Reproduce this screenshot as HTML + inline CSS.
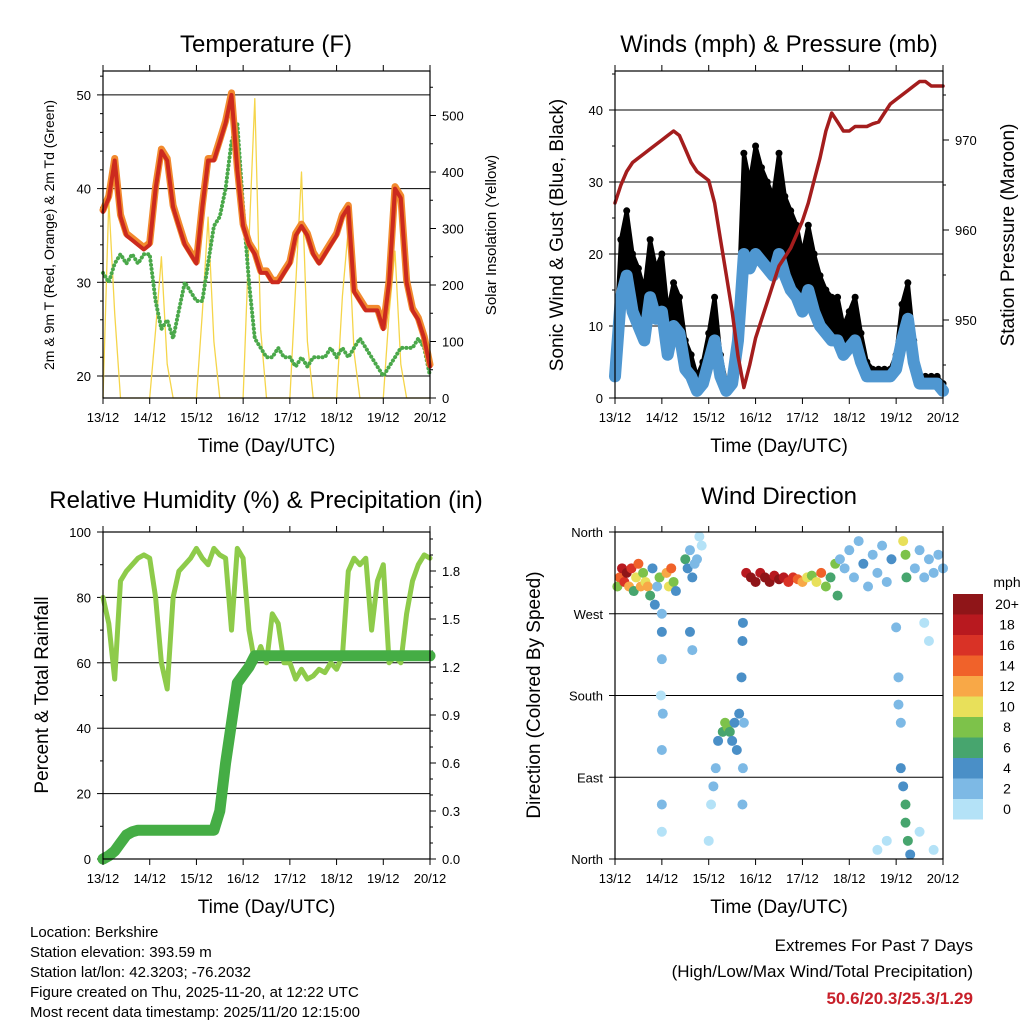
<!DOCTYPE html>
<html><head><meta charset="utf-8">
<style>
html,body{margin:0;padding:0;background:#fff;}
svg{display:block;font-family:"Liberation Sans",sans-serif;}
</style></head>
<body>
<svg id="c" width="1024" height="1024" xmlns="http://www.w3.org/2000/svg"></svg>
<script>
// ===== DATA (3-hourly, day offset from 13/12) =====
const xDays = ["13/12","14/12","15/12","16/12","17/12","18/12","19/12","20/12"];
const tempF = [37.5,39,43,37,35,34.5,34,33.5,34,40,44,43,38,36,34,33,32,38,43,43,45,47,50,42,36,34,33,31,31,30,30,31,32,35,36,35,33,32,33,34,35,37,38,29,28,27,27,27,25,30,40,39,30,27,26,24,21];
const dewF = [31,30,32,33,32,33,32,33,33,28,25,26,24,27,30,29,28,28,32,36,37,40,45,47,38,30,24,23,22,22,23,22,22,21,22,21,22,22,22,23,22,23,22,23,24,23,22,21,20,21,22,23,23,23,24,23,20];
const solar = [0,350,150,0,0,0,0,0,0,120,250,60,0,0,0,0,0,150,320,100,0,0,0,0,0,280,530,120,0,0,0,0,0,200,400,100,0,0,0,0,0,180,300,80,0,0,0,0,0,150,260,60,0,0,0,0,0];
const windMph = [3,14,17,12,10,8,14,11,12,6,10,9,4,3,1,2,5,8,3,1,2,8,20,18,20,19,18,17,20,17,15,14,12,15,12,10,9,8,8,6,7,8,5,3,3,3,3,3,4,8,11,5,2,2,2,2,1];
const gustMph = [6,22,26,20,18,15,22,18,20,12,16,14,8,6,3,5,9,14,6,2,4,12,34,30,35,32,30,28,34,28,26,24,20,24,20,17,15,14,14,10,12,14,9,5,4,4,4,4,6,13,16,8,3,3,3,3,2];
const pressMb = [963,965,966.5,967.5,968,968.5,969,969.5,970,970.5,971,970.5,969,967.5,966.5,966,965.5,963,959,955,951,946,942.5,945,948,950,952,954,956,957,958,959.5,961,963,965.5,968,971,973,972,971,971,971.5,971.5,971.5,971.8,972,973,974,974.5,975,975.5,976,976.5,976.5,976,976,976];
const rhPct = [80,72,55,85,88,90,92,93,92,80,60,52,80,88,90,92,95,92,90,95,93,92,70,95,92,70,60,65,60,75,72,60,60,55,58,55,56,58,57,60,58,62,88,92,90,92,70,85,90,60,62,60,75,85,90,93,92];
const precipIn = [0,0.02,0.05,0.1,0.15,0.17,0.18,0.18,0.18,0.18,0.18,0.18,0.18,0.18,0.18,0.18,0.18,0.18,0.18,0.18,0.3,0.6,0.85,1.1,1.15,1.2,1.27,1.27,1.27,1.27,1.27,1.27,1.27,1.27,1.27,1.27,1.27,1.27,1.27,1.27,1.27,1.27,1.27,1.27,1.27,1.27,1.27,1.27,1.27,1.27,1.27,1.27,1.27,1.27,1.27,1.27,1.27];
const dirDay = [0.05,0.1,0.15,0.2,0.25,0.3,0.35,0.4,0.45,0.5,0.55,0.6,0.65,0.7,0.75,0.8,0.85,0.9,0.95,1.0,1.0,1.0,1.02,1.0,1.0,1.0,0.98,1.1,1.15,1.2,1.25,1.3,1.5,1.55,1.6,1.65,1.7,1.75,1.6,1.65,1.8,1.85,2.0,2.05,2.1,2.15,2.2,2.3,2.35,2.4,2.45,2.5,2.55,2.6,2.65,2.7,2.72,2.73,2.75,2.72,2.73,2.8,2.9,3.0,3.1,3.2,3.3,3.4,3.5,3.6,3.7,3.8,3.9,4.0,4.1,4.2,4.3,4.4,4.5,4.6,4.7,4.75,4.8,4.9,5.0,5.1,5.2,5.3,5.4,5.5,5.6,5.7,5.8,5.9,6.0,6.05,6.05,6.1,6.1,6.15,6.2,6.2,6.25,6.3,6.15,6.2,6.22,6.4,6.5,6.6,6.7,6.8,6.9,7.0,6.6,6.7,6.5,6.8,5.8,5.6];
const dirDeg = [300,310,320,305,315,300,320,295,310,325,300,315,305,300,290,320,280,300,310,270,250,220,160,120,60,30,180,315,300,320,305,295,330,320,340,310,325,330,250,230,355,345,20,60,80,100,130,140,150,145,140,130,150,120,160,200,240,260,150,60,100,315,310,305,315,310,305,312,308,310,305,310,308,305,310,312,305,315,300,310,325,290,330,320,340,310,350,325,300,335,315,345,305,330,255,200,170,150,100,80,60,40,20,5,350,335,310,320,340,310,330,315,335,320,260,240,30,10,20,10];
const dirSpd = [8,14,18,16,20,12,16,6,10,14,12,8,10,12,6,4,4,2,8,2,4,2,2,2,2,1,1,12,10,14,8,4,6,4,2,4,2,2,4,2,1,1,1,1,2,2,4,6,8,8,6,4,4,4,4,4,4,4,2,2,2,18,20,20,18,20,20,18,20,18,16,16,14,12,10,8,10,14,8,6,8,6,2,2,2,2,2,4,2,2,2,2,2,4,2,2,2,2,4,4,6,6,6,4,10,8,6,2,2,2,2,2,2,2,1,1,1,1,1,1];
const cbLabels = ["20+","18","16","14","12","10","8","6","4","2","0"];
const cbColors = ["#8f1518","#b8191f","#d93226","#f0622a","#f8a847","#e8e05a","#7dc24a","#47a56e","#4a8fc7","#7db9e5","#b4e2f7"];

const NS="http://www.w3.org/2000/svg";
const svg=document.getElementById('c');
function mk(tag,attrs,parent){const e=document.createElementNS(NS,tag);for(const k in attrs)e.setAttribute(k,attrs[k]);(parent||svg).appendChild(e);return e;}
function txt(s,x,y,size,anchor,parent,rot){const t=mk('text',{x:x,y:y,'font-size':size,'text-anchor':anchor||'middle',fill:'#000'},parent);if(rot)t.setAttribute('transform','rotate(-90 '+x+' '+y+')');t.textContent=s;return t;}
const tDay = i=>i*0.125;

function panel(name,L,T,R,B){
  const g=mk('g',{});
  
  
  const xs=d=>L+(R-L)*d/7;
  return {g,L,T,R,B,xs};
}
function frame(p){
  const f=mk('rect',{x:p.L,y:p.T,width:p.R-p.L,height:p.B-p.T,fill:'none',stroke:'#000','stroke-width':1.2},p.g);
  
  
}
function xAxis(p,title){
  const ax=mk('g',{},p.g);
  
  
  xDays.forEach((s,i)=>{const x=p.xs(i);
    mk('line',{x1:x,y1:p.B,x2:x,y2:p.B+6,stroke:'#000'},ax);
    mk('line',{x1:x,y1:p.T,x2:x,y2:p.T-6,stroke:'#000'},ax);
    const t=txt(s,x,p.B+24,13,'middle',ax);
    
    
  });
  const tt=txt(title,(p.L+p.R)/2,p.B+54,19,'middle',ax);
  
  
}
function yTicks(p,vals,labels,ys,side,grid,minor){
  const ax=mk('g',{},p.g);
  
  
  vals.forEach((v,i)=>{const y=ys(v);
    if(grid) mk('line',{x1:p.L,y1:y,x2:p.R,y2:y,stroke:'#000','stroke-width':1},ax);
    if(side==='L'){mk('line',{x1:p.L,y1:y,x2:p.L-6,y2:y,stroke:'#000'},ax);
      const t=txt(labels[i],p.L-12,y+5,13,'end',ax);
      
      }
    else{mk('line',{x1:p.R,y1:y,x2:p.R+6,y2:y,stroke:'#000'},ax);
      const t=txt(labels[i],p.R+12,y+5,13,'start',ax);
      
      }
  });
  if(minor) minor.forEach(v=>{const y=ys(v);const x=side==='L'?p.L:p.R;mk('line',{x1:x,y1:y,x2:side==='L'?x-3:x+3,y2:y,stroke:'#000'},ax);});
}
function poly(p,xsArr,ysArr,stroke,w,extra,name){
  const pts=xsArr.map((x,i)=>x.toFixed(1)+','+ysArr[i].toFixed(1)).join(' ');
  const e=mk('polyline',Object.assign({points:pts,fill:'none',stroke:stroke,'stroke-width':w,'stroke-linejoin':'round','stroke-linecap':'round'},extra||{}),p.g);
  
  
  return e;
}
function title(s,x,y){const t=txt(s,x,y,24,'middle');}

// ===== Panel 1: Temperature =====
(function(){
  const p=panel('temperature-panel',103,71,430,398);
  const yT=v=>376-(v-20)*9.37;
  const yS=v=>398-v*0.565;
  title('Temperature (F)',266,52);
  yTicks(p,[20,30,40,50],['20','30','40','50'],yT,'L',true,[22,24,26,28,32,34,36,38,42,44,46,48,52]);
  yTicks(p,[0,100,200,300,400,500],['0','100','200','300','400','500'],yS,'R',false,[50,150,250,350,450,550]);
  const xArr=solar.map((_,i)=>p.xs(tDay(i)));
  poly(p,xArr,solar.map(yS),'#f5d54a',1.3,{},'solar-line');
  poly(p,xArr,dewF.map(yT),'#4aa84a',4,{'stroke-dasharray':'0.1,4'},'dewpoint-line');
  poly(p,xArr,tempF.map(yT),'#f28a2e',7,{transform:'translate(0,-2)'},'temp-9m-line');
  poly(p,xArr,tempF.map(yT),'#cc2a1e',4,{},'temp-2m-line');
  frame(p); xAxis(p,'Time (Day/UTC)');
  const a=txt('2m & 9m T (Red, Orange) & 2m Td (Green)',54,235,14,'middle',p.g,true);
  
  const b=txt('Solar Insolation (Yellow)',496,235,15,'middle',p.g,true);
  
})();

// ===== Panel 2: Winds & Pressure =====
(function(){
  const p=panel('winds-pressure-panel',615,71,943,398);
  const yW=v=>398-v*7.2;
  const yP=v=>320-(v-950)*9;
  title('Winds (mph) & Pressure (mb)',779,52);
  yTicks(p,[0,10,20,30,40],['0','10','20','30','40'],yW,'L',true,[5,15,25,35,45]);
  yTicks(p,[950,960,970],['950','960','970'],yP,'R',false,[945,955,965,975]);
  const xArr=windMph.map((_,i)=>p.xs(tDay(i)));
  // black band between wind and gust
  const up=xArr.map((x,i)=>x.toFixed(1)+','+yW(gustMph[i]).toFixed(1));
  const dn=xArr.map((x,i)=>x.toFixed(1)+','+yW(windMph[i]).toFixed(1)).reverse();
  const band=mk('polygon',{points:up.concat(dn).join(' '),fill:'#000','stroke':'#000','stroke-width':4,'stroke-linejoin':'round'},p.g);
  
  
  const gd=mk('g',{},p.g);
  
  
  gustMph.forEach((v,i)=>{mk('circle',{cx:xArr[i],cy:yW(v),r:3.5,fill:'#000'},gd);});
  poly(p,xArr,windMph.map(yW),'#4f97d1',12,{},'wind-line');
  poly(p,xArr,pressMb.map(yP),'#a41d1d',3.5,{},'pressure-line');
  frame(p); xAxis(p,'Time (Day/UTC)');
  const a=txt('Sonic Wind & Gust (Blue, Black)',563,235,19,'middle',p.g,true);
  
  const b=txt('Station Pressure (Maroon)',1014,235,19,'middle',p.g,true);
  
})();

// ===== Panel 3: RH & Precip =====
(function(){
  const p=panel('humidity-precip-panel',103,532,430,859);
  const yR=v=>859-v*3.27;
  const yPr=v=>859-v*160;
  title('Relative Humidity (%) & Precipitation (in)',266,508);
  yTicks(p,[0,20,40,60,80,100],['0','20','40','60','80','100'],yR,'L',true,[10,30,50,70,90]);
  yTicks(p,[0,0.3,0.6,0.9,1.2,1.5,1.8],['0.0','0.3','0.6','0.9','1.2','1.5','1.8'],yPr,'R',false,[0.1,0.2,0.4,0.5,0.7,0.8,1.0,1.1,1.3,1.4,1.6,1.7,1.9,2.0]);
  const xArr=rhPct.map((_,i)=>p.xs(tDay(i)));
  poly(p,xArr,rhPct.map(yR),'#8ecb4a',5,{},'rh-line');
  poly(p,xArr,precipIn.map(yPr),'#45ad45',11,{},'precip-line');
  frame(p); xAxis(p,'Time (Day/UTC)');
  const a=txt('Percent & Total Rainfall',48,695,19,'middle',p.g,true);
  
})();

// ===== Panel 4: Wind direction =====
(function(){
  const p=panel('wind-direction-panel',615,532,943,859);
  const yD=v=>859-v*0.9083;
  title('Wind Direction',779,504);
  yTicks(p,[0,90,180,270,360],['North','East','South','West','North'],yD,'L',true,null);
  const bin=s=>Math.max(0,Math.min(10,Math.floor(s/2)));
  const gd=mk('g',{},p.g);
  
  
  dirDay.forEach((d,i)=>{mk('circle',{cx:p.xs(d),cy:yD(dirDeg[i]),r:5,fill:cbColors[10-bin(dirSpd[i])]},gd);});
  frame(p); xAxis(p,'Time (Day/UTC)');
  const a=txt('Direction (Colored By Speed)',540,695,19,'middle',p.g,true);
  
  const cb=mk('g',{});
  
  
  const h=20.5;
  cbColors.forEach((c,i)=>{mk('rect',{x:953,y:594+i*h,width:30,height:h,fill:c},cb);
    const t=txt(cbLabels[i],1007,594+i*h+15,14,'middle',cb);
    });
  const u=txt('mph',1007,587,14,'middle',cb);
  
})();

// ===== Footer =====
const foot=mk('g',{});


["Location: Berkshire","Station elevation: 393.59 m","Station lat/lon: 42.3203; -76.2032","Figure created on Thu, 2025-11-20, at 12:22 UTC","Most recent data timestamp: 2025/11/20 12:15:00"].forEach((s,i)=>{txt(s,30,937+i*20,15,'start',foot);});
const ext=mk('g',{});


txt('Extremes For Past 7 Days',973,951,17,'end',ext);
txt('(High/Low/Max Wind/Total Precipitation)',973,977,17,'end',ext);
const ev=txt('50.6/20.3/25.3/1.29',973,1004,17,'end',ext);
ev.setAttribute('fill','#c8202a');ev.setAttribute('font-weight','bold');
</script>
</body></html>
